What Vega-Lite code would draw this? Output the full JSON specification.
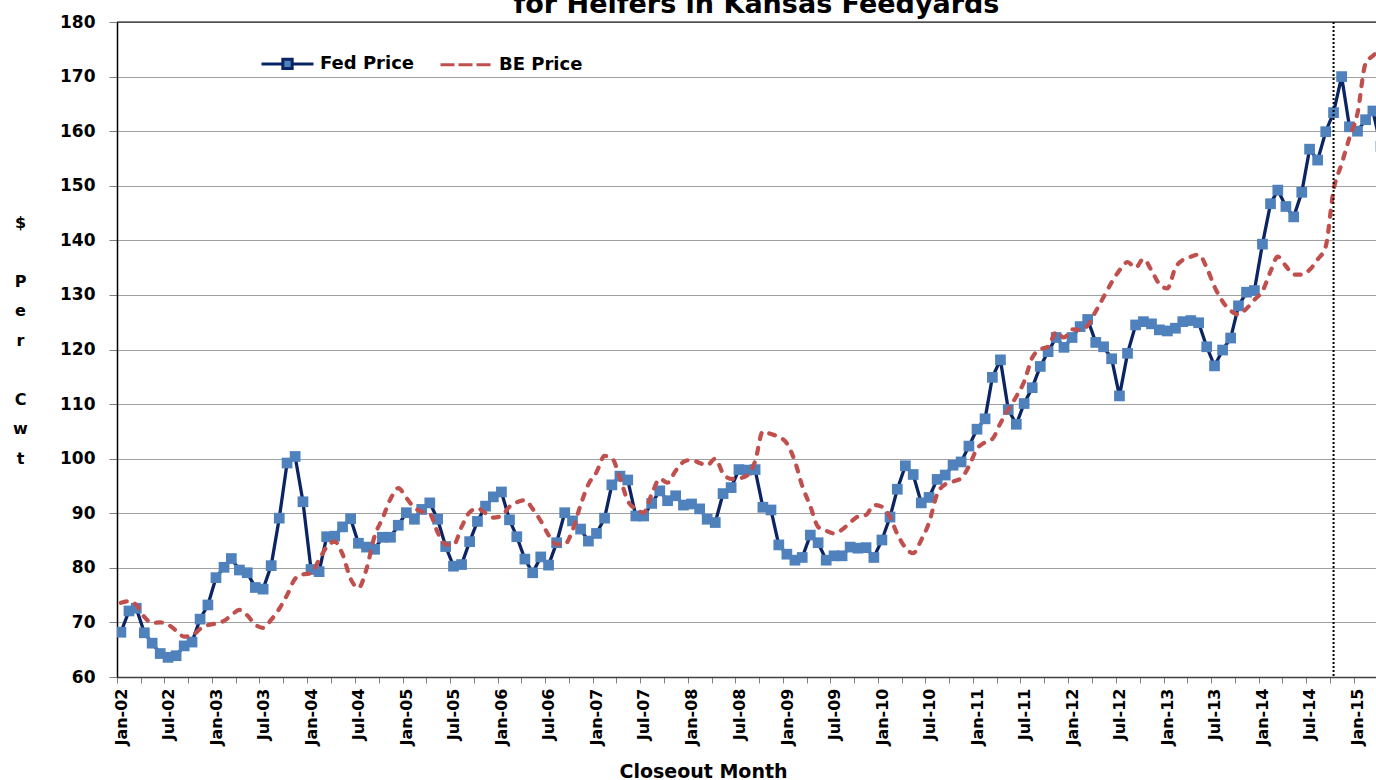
{
"$schema": "https://vega.github.io/schema/vega-lite/v6.json",
"width": 1259, "height": 655,
"autosize": {"type": "none"},
"padding": {"left": 117, "top": 22, "right": 0, "bottom": 103},
"background": "white",
"title": {"text": "for Heifers in Kansas Feedyards", "font": "DejaVu Sans", "fontWeight": "bold", "fontSize": 27, "color": "#000", "anchor": "middle", "frame": "group", "dx": 10, "dy": 10},
"config": {"view": {"stroke": null}, "axis": {"labelFont": "DejaVu Sans", "labelFontWeight": "bold", "labelColor": "#000", "titleFont": "DejaVu Sans", "titleFontWeight": "bold", "titleColor": "#000"}},
"layer": [
{"data": {"values": [
{"d":"2002-01-15","fed":68.2,"be":73.6},{"d":"2002-02-15","fed":72.1,"be":73.9},{"d":"2002-03-15","fed":72.6,"be":73.2},{"d":"2002-04-15","fed":68.1,"be":71.0},{"d":"2002-05-15","fed":66.2,"be":69.9},{"d":"2002-06-15","fed":64.3,"be":70.0},{"d":"2002-07-15","fed":63.6,"be":69.6},{"d":"2002-08-15","fed":63.9,"be":68.5},{"d":"2002-09-15","fed":65.7,"be":67.4},{"d":"2002-10-15","fed":66.4,"be":67.6},{"d":"2002-11-15","fed":70.6,"be":68.8},{"d":"2002-12-15","fed":73.2,"be":69.5},
{"d":"2003-01-15","fed":78.2,"be":69.8},{"d":"2003-02-15","fed":80.1,"be":70.3},{"d":"2003-03-15","fed":81.7,"be":71.3},{"d":"2003-04-15","fed":79.6,"be":72.3},{"d":"2003-05-15","fed":79.1,"be":71.3},{"d":"2003-06-15","fed":76.4,"be":69.6},{"d":"2003-07-15","fed":76.1,"be":69.0},{"d":"2003-08-15","fed":80.4,"be":70.5},{"d":"2003-09-15","fed":89.1,"be":72.5},{"d":"2003-10-15","fed":99.2,"be":75.0},{"d":"2003-11-15","fed":100.4,"be":78.0},{"d":"2003-12-15","fed":92.1,"be":78.8},
{"d":"2004-01-15","fed":79.7,"be":79.0},{"d":"2004-02-15","fed":79.3,"be":81.5},{"d":"2004-03-15","fed":85.7,"be":83.8},{"d":"2004-04-15","fed":85.8,"be":84.8},{"d":"2004-05-15","fed":87.5,"be":82.5},{"d":"2004-06-15","fed":89.0,"be":78.0},{"d":"2004-07-15","fed":84.5,"be":76.3},{"d":"2004-08-15","fed":83.8,"be":79.8},{"d":"2004-09-15","fed":83.4,"be":85.8},{"d":"2004-10-15","fed":85.6,"be":89.0},{"d":"2004-11-15","fed":85.6,"be":92.6},{"d":"2004-12-15","fed":87.8,"be":94.6},
{"d":"2005-01-15","fed":90.1,"be":92.8},{"d":"2005-02-15","fed":88.9,"be":91.0},{"d":"2005-03-15","fed":90.7,"be":90.3},{"d":"2005-04-15","fed":91.9,"be":89.9},{"d":"2005-05-15","fed":88.9,"be":86.5},{"d":"2005-06-15","fed":83.9,"be":84.3},{"d":"2005-07-15","fed":80.3,"be":84.2},{"d":"2005-08-15","fed":80.6,"be":87.5},{"d":"2005-09-15","fed":84.8,"be":90.2},{"d":"2005-10-15","fed":88.5,"be":90.9},{"d":"2005-11-15","fed":91.3,"be":90.0},{"d":"2005-12-15","fed":93.0,"be":89.2},
{"d":"2006-01-15","fed":93.9,"be":89.5},{"d":"2006-02-15","fed":88.8,"be":91.2},{"d":"2006-03-15","fed":85.7,"be":92.0},{"d":"2006-04-15","fed":81.6,"be":92.4},{"d":"2006-05-15","fed":79.1,"be":90.8},{"d":"2006-06-15","fed":82.0,"be":88.6},{"d":"2006-07-15","fed":80.5,"be":86.0},{"d":"2006-08-15","fed":84.6,"be":84.3},{"d":"2006-09-15","fed":90.1,"be":84.3},{"d":"2006-10-15","fed":88.6,"be":86.9},{"d":"2006-11-15","fed":87.1,"be":91.5},{"d":"2006-12-15","fed":84.9,"be":95.3},
{"d":"2007-01-15","fed":86.3,"be":97.5},{"d":"2007-02-15","fed":89.1,"be":100.5},{"d":"2007-03-15","fed":95.2,"be":100.1},{"d":"2007-04-15","fed":96.8,"be":96.5},{"d":"2007-05-15","fed":96.1,"be":92.3},{"d":"2007-06-15","fed":89.5,"be":90.8},{"d":"2007-07-15","fed":89.5,"be":90.1},{"d":"2007-08-15","fed":91.8,"be":93.5},{"d":"2007-09-15","fed":94.1,"be":96.3},{"d":"2007-10-15","fed":92.3,"be":95.6},{"d":"2007-11-15","fed":93.2,"be":97.8},{"d":"2007-12-15","fed":91.5,"be":99.4},
{"d":"2008-01-15","fed":91.7,"be":99.8},{"d":"2008-02-15","fed":90.8,"be":99.2},{"d":"2008-03-15","fed":88.9,"be":98.8},{"d":"2008-04-15","fed":88.3,"be":100.0},{"d":"2008-05-15","fed":93.6,"be":97.3},{"d":"2008-06-15","fed":94.7,"be":96.3},{"d":"2008-07-15","fed":98.0,"be":96.4},{"d":"2008-08-15","fed":97.9,"be":96.9},{"d":"2008-09-15","fed":98.0,"be":99.5},{"d":"2008-10-15","fed":91.1,"be":105.0},{"d":"2008-11-15","fed":90.6,"be":104.5},{"d":"2008-12-15","fed":84.2,"be":104.0},
{"d":"2009-01-15","fed":82.5,"be":102.8},{"d":"2009-02-15","fed":81.4,"be":99.5},{"d":"2009-03-15","fed":81.9,"be":95.0},{"d":"2009-04-15","fed":86.0,"be":91.3},{"d":"2009-05-15","fed":84.6,"be":87.5},{"d":"2009-06-15","fed":81.4,"be":86.8},{"d":"2009-07-15","fed":82.2,"be":86.3},{"d":"2009-08-15","fed":82.2,"be":87.0},{"d":"2009-09-15","fed":83.8,"be":88.3},{"d":"2009-10-15","fed":83.6,"be":89.4},{"d":"2009-11-15","fed":83.7,"be":89.7},{"d":"2009-12-15","fed":81.9,"be":91.5},
{"d":"2010-01-15","fed":85.1,"be":91.2},{"d":"2010-02-15","fed":89.3,"be":89.3},{"d":"2010-03-15","fed":94.4,"be":86.2},{"d":"2010-04-15","fed":98.7,"be":83.7},{"d":"2010-05-15","fed":97.1,"be":82.7},{"d":"2010-06-15","fed":91.9,"be":85.1},{"d":"2010-07-15","fed":92.9,"be":88.3},{"d":"2010-08-15","fed":96.2,"be":93.5},{"d":"2010-09-15","fed":97.0,"be":95.3},{"d":"2010-10-15","fed":98.8,"be":95.8},{"d":"2010-11-15","fed":99.4,"be":96.4},{"d":"2010-12-15","fed":102.3,"be":98.6},
{"d":"2011-01-15","fed":105.4,"be":101.8},{"d":"2011-02-15","fed":107.3,"be":103.0},{"d":"2011-03-15","fed":114.9,"be":103.6},{"d":"2011-04-15","fed":118.1,"be":106.5},{"d":"2011-05-15","fed":109.0,"be":109.0},{"d":"2011-06-15","fed":106.3,"be":111.4},{"d":"2011-07-15","fed":110.1,"be":114.1},{"d":"2011-08-15","fed":113.0,"be":118.5},{"d":"2011-09-15","fed":116.9,"be":120.0},{"d":"2011-10-15","fed":119.6,"be":120.5},{"d":"2011-11-15","fed":122.2,"be":123.2},{"d":"2011-12-15","fed":120.4,"be":122.2},
{"d":"2012-01-15","fed":122.2,"be":123.7},{"d":"2012-02-15","fed":124.2,"be":123.6},{"d":"2012-03-15","fed":125.5,"be":124.4},{"d":"2012-04-15","fed":121.3,"be":127.0},{"d":"2012-05-15","fed":120.5,"be":129.6},{"d":"2012-06-15","fed":118.3,"be":132.3},{"d":"2012-07-15","fed":111.5,"be":134.5},{"d":"2012-08-15","fed":119.3,"be":136.0},{"d":"2012-09-15","fed":124.5,"be":135.0},{"d":"2012-10-15","fed":125.1,"be":136.6},{"d":"2012-11-15","fed":124.7,"be":134.5},{"d":"2012-12-15","fed":123.6,"be":132.0},
{"d":"2013-01-15","fed":123.4,"be":131.2},{"d":"2013-02-15","fed":123.9,"be":135.0},{"d":"2013-03-15","fed":125.1,"be":136.4},{"d":"2013-04-15","fed":125.3,"be":137.0},{"d":"2013-05-15","fed":124.9,"be":137.4},{"d":"2013-06-15","fed":120.5,"be":135.0},{"d":"2013-07-15","fed":117.0,"be":131.5},{"d":"2013-08-15","fed":119.9,"be":128.8},{"d":"2013-09-15","fed":122.1,"be":127.1},{"d":"2013-10-15","fed":128.0,"be":126.4},{"d":"2013-11-15","fed":130.5,"be":127.5},{"d":"2013-12-15","fed":130.8,"be":129.1},
{"d":"2014-01-15","fed":139.3,"be":130.7},{"d":"2014-02-15","fed":146.7,"be":134.3},{"d":"2014-03-15","fed":149.2,"be":137.0},{"d":"2014-04-15","fed":146.2,"be":135.3},{"d":"2014-05-15","fed":144.3,"be":133.7},{"d":"2014-06-15","fed":148.8,"be":133.7},{"d":"2014-07-15","fed":156.7,"be":134.6},{"d":"2014-08-15","fed":154.7,"be":136.5},{"d":"2014-09-15","fed":159.9,"be":138.9},{"d":"2014-10-15","fed":163.4,"be":149.2},{"d":"2014-11-15","fed":170.0,"be":154.0},{"d":"2014-12-15","fed":160.8,"be":158.8},
{"d":"2015-01-15","fed":160.0,"be":163.3},{"d":"2015-02-15","fed":162.1,"be":172.4},{"d":"2015-03-15","fed":163.7,"be":173.8},{"d":"2015-04-15","fed":157.2,"be":175.0}
 ]},
 "transform": [{"fold": ["fed", "be"], "as": ["series", "value"]}],
 "encoding": {
  "x": {"field": "d", "type": "temporal",
   "scale": {"type": "utc", "domain": [{"year": 2001, "month": 12, "date": 31, "utc": true}, {"year": 2015, "month": 3, "date": 27, "utc": true}]},
   "axis": {"title": "Closeout Month", "titleFontSize": 19, "titleX": 586, "titleY": 100, "titleAlign": "center", "titleBaseline": "alphabetic",
    "tickCount": {"interval": "month", "step": 3},
    "labelExpr": "utcmonth(datum.value) % 6 === 0 ? utcFormat(datum.value, '%b-%y') : ''",
    "labelAngle": -90, "labelFontSize": 16, "labelPadding": 5, "labelOffset": 4, "labelOverlap": false, "labelFlush": false, "labelBound": false,
    "tickSize": 6, "tickColor": "#808080", "domainColor": "#404040", "domainWidth": 1.5, "grid": false}},
  "y": {"field": "value", "type": "quantitative",
   "scale": {"domain": [60, 180], "nice": false, "zero": false},
   "axis": {"title": ["$", "\u200b", "P", "e", "r", "\u200b", "C", "w", "t"], "titleAngle": 0, "titleX": -97, "titleY": 200, "titleAlign": "center", "titleBaseline": "middle", "titleFontSize": 16, "titleLineHeight": 29.5,
    "values": [60, 70, 80, 90, 100, 110, 120, 130, 140, 150, 160, 170, 180],
    "labelFontSize": 17, "labelPadding": 14, "tickSize": 8, "tickColor": "#808080", "domainColor": "#000", "domainWidth": 1.5,
    "grid": true, "gridColor": "#a0a0a0", "gridWidth": 1}}
 },
 "layer": [
 {"transform": [{"filter": "datum.series === 'fed'"}],
  "mark": {"type": "line", "color": "#0b2463", "strokeWidth": 3.3, "clip": true},
  "encoding": {
   "color": {"datum": "Fed Price",
    "scale": {"domain": ["Fed Price", "BE Price"], "range": ["#0b2463", "#c0504d"]},
    "legend": {"title": null, "orient": "none", "legendX": 143, "legendY": 14, "direction": "horizontal",
     "symbolType": "stroke", "symbolSize": 2704, "symbolStrokeWidth": 3,
     "labelFont": "DejaVu Sans", "labelFontWeight": "bold", "labelFontSize": 18, "labelColor": "#000", "labelOffset": 5, "columnPadding": 19,
     "encode": {"symbols": {"update": {
      "shape": {"signal": "datum.value === 'Fed Price' ? 'M-1,0H-0.18M0.18,0H1M-0.18,-0.18H0.18V0.18H-0.18Z' : 'stroke'"},
      "fill": {"signal": "datum.value === 'Fed Price' ? '#4f81bd' : 'transparent'"},
      "strokeDash": {"signal": "datum.value === 'Fed Price' ? [1, 0] : [14, 4]"}}}}}}
  }},
 {"transform": [{"filter": "datum.series === 'fed'"}],
  "mark": {"type": "point", "shape": "square", "filled": true, "size": 115, "color": "#4f81bd", "opacity": 1, "clip": true}},
 {"transform": [{"filter": "datum.series === 'be'"}],
  "mark": {"type": "line", "strokeWidth": 4.2, "strokeDash": [6, 9], "strokeCap": "round", "interpolate": "monotone", "clip": true},
  "encoding": {"color": {"datum": "BE Price"}}}
 ]
},
{"data": {"values": [{"top": 180}]},
 "mark": {"type": "rule", "color": "#000", "strokeWidth": 1},
 "encoding": {"y": {"field": "top", "type": "quantitative"}}},
{"data": {"values": [{"cut": "2014-10-15"}]},
 "mark": {"type": "rule", "color": "#000", "strokeWidth": 2, "strokeDash": [2, 2]},
 "encoding": {"x": {"field": "cut", "type": "temporal"}}}
]
}
